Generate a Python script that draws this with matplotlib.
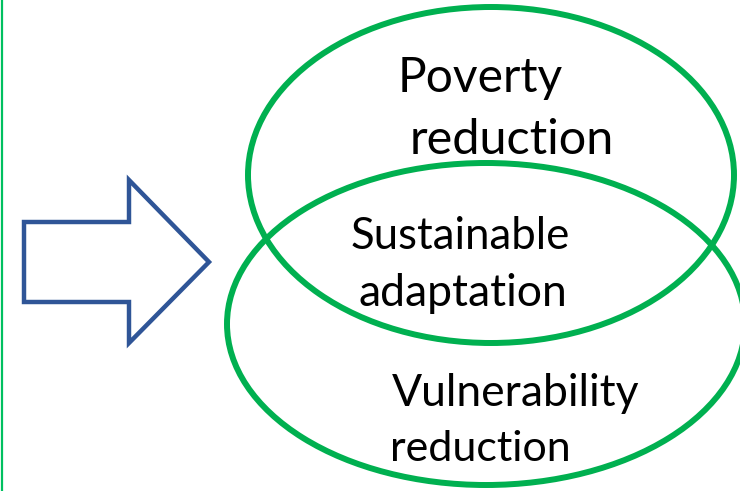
import matplotlib.pyplot as plt
from matplotlib.patches import Ellipse, Polygon

# Textos do diagrama
top_label = ['Poverty', 'reduction']
mid_label = ['Sustainable', 'adaptation']
bottom_label = ['Vulnerability', 'reduction']

green = '#00B050'
blue = '#2F5597'

fig = plt.figure(figsize=(7.4, 4.91), dpi=100)
ax = fig.add_axes([0, 0, 1, 1])
ax.set_xlim(0, 740)
ax.set_ylim(491, 0)
ax.axis('off')

# Linha verde na borda esquerda
ax.plot([1.5, 1.5], [0, 491], color='#00C060', lw=1.6)

# Seta azul
seta = [(24, 222), (129, 222), (129, 180), (209, 262), (129, 343), (129, 302), (24, 302)]
ax.add_patch(Polygon(seta, closed=True, fill=False, edgecolor=blue, lw=3.2, joinstyle='miter'))

# Elipses
ax.add_patch(Ellipse((491, 175), 486, 336, fill=False, edgecolor=green, lw=4.3))
ax.add_patch(Ellipse((486, 324), 518, 322, fill=False, edgecolor=green, lw=4.3))

fonte = 'Lato'
ax.text(480, 78, top_label[0], fontsize=34.5, family=fonte, ha='center', va='center')
ax.text(512, 140, top_label[1], fontsize=35, family=fonte, ha='center', va='center')
ax.text(460, 236, mid_label[0], fontsize=31.5, family=fonte, ha='center', va='center')
ax.text(463, 293, mid_label[1], fontsize=32, family=fonte, ha='center', va='center')
ax.text(516, 393, bottom_label[0], fontsize=32, family=fonte, ha='center', va='center')
ax.text(480, 449, bottom_label[1], fontsize=31, family=fonte, ha='center', va='center')

plt.savefig('out.png', dpi=100)
